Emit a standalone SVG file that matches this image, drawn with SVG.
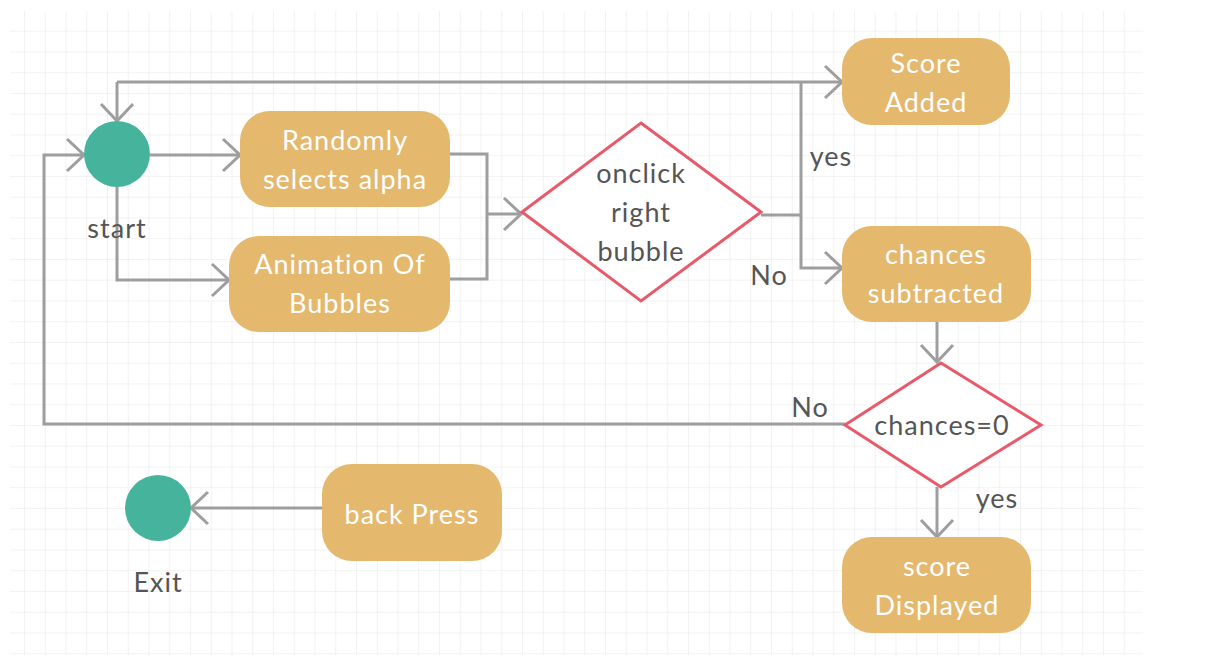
<svg xmlns="http://www.w3.org/2000/svg" width="1210" height="660" viewBox="0 0 1210 660">
<defs>
<pattern id="grid" patternUnits="userSpaceOnUse" x="24" y="30.7" width="20.75" height="20.75">
<path d="M0,0 H20.75 M0,0 V20.75" fill="none" stroke="#e6e6e6" stroke-width="1"/>
</pattern>
<marker id="arr" markerUnits="userSpaceOnUse" viewBox="-20 -19 22 38" refX="0" refY="0" markerWidth="22" markerHeight="38" orient="auto">
<path d="M-17,-16 L0,0 L-17,16" fill="none" stroke="#9e9e9e" stroke-width="3"/>
</marker>
<style>
.act{fill:#e4b86d}
.at{font-family:Lato,"Liberation Sans",sans-serif;font-size:27px;letter-spacing:1px;fill:#ffffff;text-anchor:middle}
.lb{font-family:Lato,"Liberation Sans",sans-serif;font-size:27px;letter-spacing:1px;fill:#555555;text-anchor:middle}
.dec{fill:#ffffff;stroke:#e8596a;stroke-width:3}
.dt{font-family:Lato,"Liberation Sans",sans-serif;font-size:27px;letter-spacing:1px;fill:#555555;text-anchor:middle}
.term{fill:#46b39d}
.c{fill:none;stroke:#9e9e9e;stroke-width:3}
</style>
</defs>
<rect width="1210" height="660" fill="#ffffff"/>
<rect x="10" y="11" width="1133" height="644" fill="url(#grid)"/>

<g id="connectors">
<path class="c" d="M150,155 H240" marker-end="url(#arr)"/>
<path class="c" d="M117,187 V280 H229" marker-end="url(#arr)"/>
<path class="c" d="M450,154 H487 V279 H450"/>
<path class="c" d="M487,214 H521" marker-end="url(#arr)"/>
<path class="c" d="M761,215 H801"/>
<path class="c" d="M117,82 H842" marker-end="url(#arr)"/>
<path class="c" d="M117,82 V121" marker-end="url(#arr)"/>
<path class="c" d="M801,82 V268 H842" marker-end="url(#arr)"/>
<path class="c" d="M937,322 V362" marker-end="url(#arr)"/>
<path class="c" d="M937,487 V537" marker-end="url(#arr)"/>
<path class="c" d="M845,424 H44 V155 H84" marker-end="url(#arr)"/>
<path class="c" d="M322,508 H191" marker-end="url(#arr)"/>
<text class="lb" x="831" y="166">yes</text>
<text class="lb" x="769" y="285">No</text>
<text class="lb" x="810" y="417">No</text>
<text class="lb" x="997" y="508">yes</text>
</g>

<g id="start">
<circle class="term" cx="117" cy="154" r="33"/>
<text class="lb" x="117" y="238">start</text>
</g>

<g id="randomly">
<rect class="act" x="240" y="111" width="210" height="96" rx="30"/>
<text class="at" x="345" y="150">Randomly</text>
<text class="at" x="345" y="189">selects alpha</text>
</g>

<g id="animation">
<rect class="act" x="229" y="236" width="221" height="96" rx="30"/>
<text class="at" x="340" y="274">Animation Of</text>
<text class="at" x="340" y="313">Bubbles</text>
</g>

<g id="onclick">
<polygon class="dec" points="641,123 761,212 641,301 522,212"/>
<text class="dt" x="641" y="183">onclick</text>
<text class="dt" x="641" y="222">right</text>
<text class="dt" x="641" y="261">bubble</text>
</g>

<g id="score-added">
<rect class="act" x="842" y="38" width="168" height="87" rx="30"/>
<text class="at" x="926" y="73">Score</text>
<text class="at" x="926" y="112">Added</text>
</g>

<g id="chances-subtracted">
<rect class="act" x="842" y="226" width="189" height="96" rx="30"/>
<text class="at" x="936" y="264">chances</text>
<text class="at" x="936" y="303">subtracted</text>
</g>

<g id="chances-zero">
<polygon class="dec" points="941,363 1041,425 941,487 845,425"/>
<text class="dt" x="942" y="435">chances=0</text>
</g>

<g id="score-displayed">
<rect class="act" x="842" y="537" width="189" height="96" rx="30"/>
<text class="at" x="937" y="576">score</text>
<text class="at" x="937" y="615">Displayed</text>
</g>

<g id="back-press">
<rect class="act" x="322" y="464" width="180" height="97" rx="30"/>
<text class="at" x="412" y="524">back Press</text>
</g>

<g id="exit">
<circle class="term" cx="158" cy="508" r="33"/>
<text class="lb" x="158" y="592">Exit</text>
</g>
</svg>
